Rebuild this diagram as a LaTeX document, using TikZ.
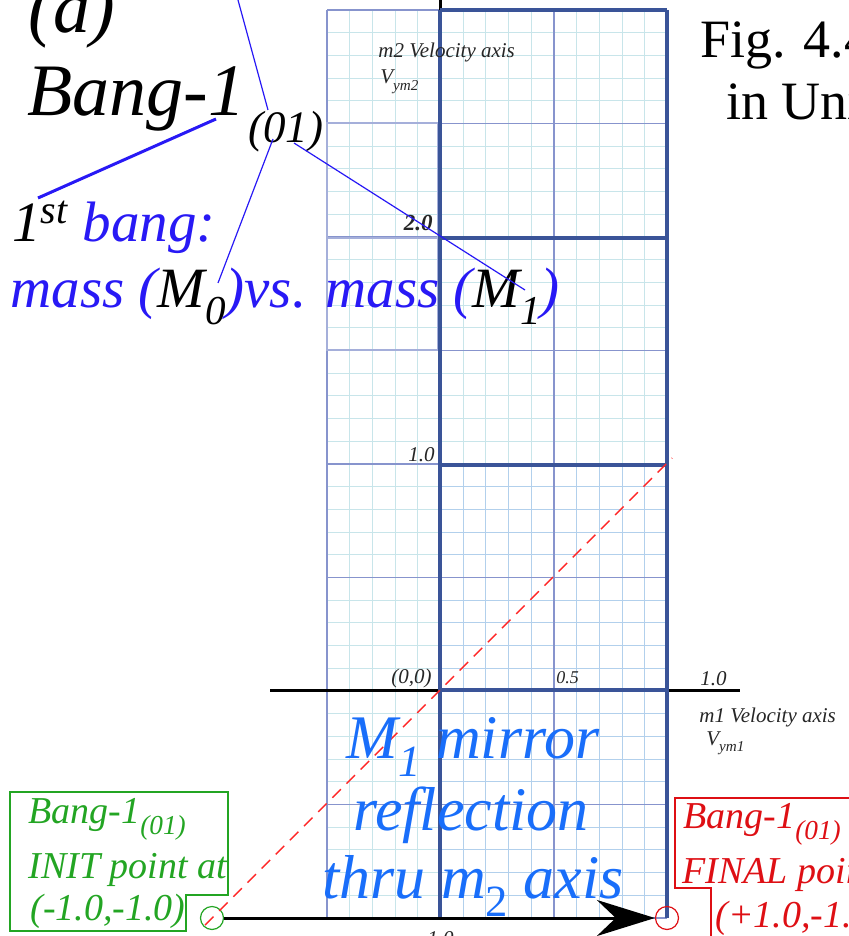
\documentclass[tikz,border=0pt]{standalone}
\usepackage{fontspec}
\setmainfont{Liberation Serif}
\usetikzlibrary{arrows.meta}
\definecolor{GridCyan}{RGB}{200,229,234}
\definecolor{GridBlue}{RGB}{178,208,236}
\definecolor{GridLav}{RGB}{135,148,205}
\definecolor{GridNavy}{RGB}{58,84,152}
\definecolor{BangBlue}{RGB}{40,25,245}
\definecolor{SkyBlue}{RGB}{25,110,250}
\definecolor{InitGreen}{RGB}{35,165,35}
\definecolor{FinalRed}{RGB}{222,15,20}
\newcommand{\lowsub}[1]{\raisebox{-0.3em}{\scalebox{0.72}{#1}}}

\begin{document}
\begin{tikzpicture}[x=0.5pt, y=-0.5pt,
    minorln/.style={GridCyan, line width=0.5pt},
    midln/.style={GridLav, line width=0.7pt},
    majorln/.style={GridNavy, line width=1.7pt},
    axln/.style={black, line width=1.5pt},
    ptr/.style={BangBlue, line width=0.6pt},
    ticklbl/.style={font=\fontsize{10.5}{12}\selectfont\itshape, text=black!85,
                    inner sep=0pt},
    hugetxt/.style={font=\fontsize{37}{40}\selectfont\itshape, inner sep=0pt,
                    anchor=base west},
    bangtxt/.style={font=\fontsize{28.5}{32}\selectfont\itshape, text=BangBlue,
                    inner sep=0pt, anchor=base west},
    mirtxt/.style={font=\fontsize{31}{34}\selectfont\itshape, text=SkyBlue,
                   inner sep=0pt, anchor=base},
    pttxt/.style={font=\fontsize{19}{22}\selectfont\itshape, inner sep=0pt,
                  anchor=base west},
    ptmark/.style={circle, minimum size=11.5pt, inner sep=0pt, line width=0.6pt},
    bigarr/.style={-{Stealth[length=29pt, width=18pt]}, black, line width=1.5pt}
  ]
  \useasboundingbox (0,0) rectangle (848,936);

  % Grid paper
  \foreach \i in {0,...,15}
    \draw[minorln] ({327+22.7*\i},10) -- ({327+22.7*\i},918);
  \foreach \j in {0,...,40}
    \draw[minorln] (327,{10+22.7*\j}) -- (667,{10+22.7*\j});
  \foreach \i in {5,...,15}
    \draw[minorln, GridBlue] ({327+22.7*\i},465) -- ({327+22.7*\i},918);
  \foreach \j in {20,...,40}
    \draw[minorln, GridBlue] (440,{10+22.7*\j}) -- (667,{10+22.7*\j});
  \foreach \i in {0,...,3}
    \draw[midln] ({327+113.5*\i},10) -- ({327+113.5*\i},918);
  \foreach \j in {0,...,8}
    \draw[midln] (327,{10+113.5*\j}) -- (667,{10+113.5*\j});
  \draw[GridLav!75, line width=1.2pt] (327,123) rectangle (438,350);
  \draw[GridLav!75, line width=1.2pt] (327,238) -- (438,238);

  % Axes
  \coordinate (xl) at (270,690);
  \coordinate (xr) at (740,690);
  \coordinate (yt) at (440,0);
  \coordinate (yg) at (440,10);
  \draw[axln] (xl) -- (xr);
  \draw[axln] (yt) -- (yg);
  \draw[majorln] (440,10) -- (440,918);
  \draw[majorln] (667,10) -- (667,918);
  \foreach \y in {10, 238, 465, 690}
    \draw[majorln] (440,\y) -- (667,\y);

  % Tick labels
  \node[ticklbl, anchor=base east] (org) at (432,683) {(0,0)};
  \node[ticklbl, anchor=base west, font=\fontsize{9}{11}\selectfont\itshape]
       (xhalf) at (556,683) {0.5};
  \node[ticklbl, anchor=base west] (xone) at (700,685) {1.0};
  \node[ticklbl, anchor=base east] (yone) at (435,461) {1.0};
  \node[ticklbl, anchor=base east, font=\fontsize{11.5}{13}\selectfont\bfseries\itshape]
       (ytwo) at (433,231) {2.0};
  \node[ticklbl, anchor=base east] (ymin) at (454,945) {-1.0};
  \node[ticklbl, anchor=base west] (m1ax) at (699,722) {m1 Velocity axis};
  \node[ticklbl, anchor=base west] (v1ax) at (706,745) {V\lowsub{ym1}};
  \node[ticklbl, anchor=base west] (m2ax) at (378,58) {m2 Velocity axis};
  \node[ticklbl, anchor=base west] (v2ax) at (380,84) {V\lowsub{ym2}};

  % Diagonal and points
  \node[ptmark, draw=InitGreen] (gc) at (212,918) {};
  \node[ptmark, draw=FinalRed] (rc) at (667,918) {};
  \coordinate (dlo) at (205,925);
  \coordinate (dhi) at (672,458);
  \draw[red!85!white, line width=0.7pt, dash pattern=on 6pt off 4pt] (dlo) -- (dhi);
  \draw[bigarr] (gc) -- (rc);

  % Title block
  \node[hugetxt] (lbla) at (28,33) {(a)};
  \node[hugetxt] (bang) at (27,116) {Bang-1};
  \node[font=\fontsize{22.5}{26}\selectfont\itshape, inner sep=0pt,
        anchor=base west] (code) at (248,143) {(01)};
  \node[font=\fontsize{27}{30}\selectfont, inner sep=0pt, anchor=base west]
       (fig) at (700,58) {Fig. 4.4};
  \node[font=\fontsize{27}{30}\selectfont, inner sep=0pt, anchor=base west]
       (units) at (726,120) {in Units};

  \node[bangtxt] (first) at (12,242) {\textcolor{black}{1\textsuperscript{st}} bang:};
  \node[bangtxt] (mass) at (10,307)
       {mass (\textcolor{black}{M\lowsub{0}})vs. mass (\textcolor{black}{M\lowsub{1}})};

  % Pointer lines
  \coordinate (ptop) at (238,0);
  \coordinate (pa) at (268,110);
  \coordinate (pb) at (273,139);
  \coordinate (pm0) at (218,283);
  \coordinate (pc) at (294,143);
  \coordinate (pm1) at (525,290);
  \coordinate (ua) at (216,119);
  \coordinate (ub) at (38,198);
  \draw[ptr] (pa) -- (ptop);
  \draw[ptr] (pb) -- (pm0);
  \draw[ptr] (pc) -- (pm1);
  \draw[BangBlue, line width=1.5pt] (ua) -- (ub);

  % Mirror note
  \node[mirtxt] (mir1) at (473,758) {M\lowsub{1} mirror};
  \node[mirtxt] (mir2) at (471,830) {reflection};
  \node[mirtxt] (mir3) at (473,898) {thru m\lowsub{\upshape 2} axis};

  % INIT box
  \draw[InitGreen, line width=1.4pt]
       (10,792) -- (228,792) -- (228,895) -- (186,895) -- (186,931) -- (10,931) -- cycle;
  \node[pttxt, text=InitGreen] (ib) at (28,823) {Bang-1\lowsub{(01)}};
  \node[pttxt, text=InitGreen] (ii) at (28,878) {INIT point at};
  \node[pttxt, text=InitGreen] (ic) at (30,920) {(-1.0,-1.0)};

  % FINAL box
  \draw[FinalRed, line width=1.4pt]
       (870,798) -- (675,798) -- (675,888) -- (711,888) -- (711,950);
  \node[pttxt, text=FinalRed] (fb) at (683,828) {Bang-1\lowsub{(01)}};
  \node[pttxt, text=FinalRed] (fi) at (682,883) {FINAL point at};
  \node[pttxt, text=FinalRed] (fc) at (715,927) {(+1.0,-1.0)};
\end{tikzpicture}
\end{document}
